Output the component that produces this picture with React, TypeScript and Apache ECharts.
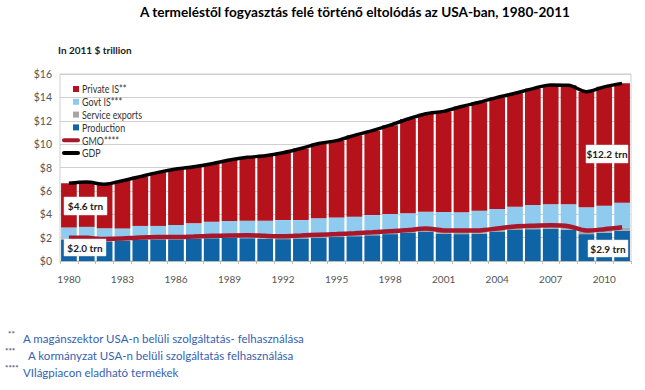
import React, { useEffect, useRef } from "react";
import * as echarts from "echarts";

const years = [
  "1980", "1981", "1982", "1983", "1984", "1985", "1986", "1987", "1988", "1989",
  "1990", "1991", "1992", "1993", "1994", "1995", "1996", "1997", "1998", "1999",
  "2000", "2001", "2002", "2003", "2004", "2005", "2006", "2007", "2008", "2009",
  "2010", "2011",
];

const production = [
  1.80, 1.78, 1.68, 1.72, 1.82, 1.85, 1.85, 1.90, 1.95, 1.98,
  1.95, 1.90, 1.87, 1.93, 2.00, 2.05, 2.12, 2.20, 2.30, 2.40,
  2.48, 2.32, 2.30, 2.32, 2.48, 2.65, 2.72, 2.76, 2.68, 2.30,
  2.42, 2.58,
];

const serviceExports = [
  0.15, 0.15, 0.15, 0.15, 0.15, 0.15, 0.15, 0.15, 0.15, 0.15,
  0.20, 0.20, 0.20, 0.20, 0.20, 0.20, 0.20, 0.20, 0.20, 0.20,
  0.25, 0.25, 0.25, 0.25, 0.25, 0.25, 0.25, 0.25, 0.25, 0.25,
  0.25, 0.25,
];

const govtIS = [
  0.92, 0.99, 0.97, 0.91, 1.03, 1.00, 1.08, 1.17, 1.26, 1.30,
  1.30, 1.34, 1.43, 1.37, 1.45, 1.48, 1.47, 1.53, 1.52, 1.48,
  1.49, 1.63, 1.62, 1.73, 1.72, 1.74, 1.82, 1.84, 1.92, 2.05,
  2.06, 2.16,
];

const privateIS = [
  3.78, 3.83, 3.77, 4.09, 4.22, 4.58, 4.79, 4.85, 4.96, 5.21,
  5.42, 5.56, 5.76, 6.12, 6.40, 6.57, 6.96, 7.22, 7.60, 8.07,
  8.38, 8.60, 9.05, 9.28, 9.55, 9.71, 9.96, 10.20, 10.18, 9.88,
  10.17, 10.21,
];

const gmo = [
  2.00, 1.98, 1.88, 1.92, 2.02, 2.05, 2.05, 2.10, 2.15, 2.18,
  2.20, 2.15, 2.12, 2.18, 2.25, 2.30, 2.37, 2.45, 2.55, 2.65,
  2.78, 2.62, 2.60, 2.62, 2.78, 2.95, 3.02, 3.06, 2.98, 2.60,
  2.72, 2.88,
];

const gdp = [
  6.65, 6.75, 6.57, 6.87, 7.22, 7.58, 7.87, 8.07, 8.32, 8.64,
  8.87, 9.00, 9.26, 9.62, 10.05, 10.30, 10.75, 11.15, 11.62, 12.15,
  12.60, 12.80, 13.22, 13.58, 14.00, 14.35, 14.75, 15.05, 15.03, 14.48,
  14.90, 15.20,
];

const legendItems = [
  { name: "Private IS**", color: "#b5121b", kind: "box" },
  { name: "Govt IS***", color: "#8ecbef", kind: "box" },
  { name: "Service exports", color: "#a6a6a6", kind: "box" },
  { name: "Production", color: "#0f64a6", kind: "box" },
  { name: "GMO****", color: "#a8182c", kind: "line" },
  { name: "GDP", color: "#000000", kind: "line" },
];

const callouts = [
  { text: "$4.6 trn", x: 64, y: 197, w: 43, h: 18 },
  { text: "$2.0 trn", x: 64, y: 239, w: 42, h: 17 },
  { text: "$12.2 trn", x: 586, y: 145, w: 42, h: 18 },
  { text: "$2.9 trn", x: 588, y: 240, w: 40, h: 17 },
];

const footnotes = [
  { mark: "**", markX: 8, text: "A magánszektor USA-n belüli szolgáltatás- felhasználása", x: 23, y: 338 },
  { mark: "***", markX: 5, text: "A kormányzat USA-n belüli szolgáltatás felhasználása", x: 28, y: 355 },
  { mark: "****", markX: 5, text: "VIlágpiacon eladható termékek", x: 23, y: 372 },
];

const FONT = "Lato";

export default function App() {
  const ref = useRef<HTMLDivElement>(null);

  useEffect(() => {
    if (!ref.current) return;
    const chart = echarts.init(ref.current, undefined, { renderer: "svg" });

    const graphic: any[] = [
      {
        type: "text",
        left: 140,
        top: 5,
        style: {
          text: "A termeléstől fogyasztás felé történő eltolódás az USA-ban, 1980-2011",
          font: `bold 13.6px ${FONT}`,
          fill: "#000",
        },
      },
      {
        type: "text",
        left: 58,
        top: 45,
        style: { text: "In 2011 $ trillion", font: `bold 10px ${FONT}`, fill: "#222" },
      },
    ];

    legendItems.forEach((it, i) => {
      const cy = 89 + i * 12.8;
      if (it.kind === "box") {
        graphic.push({
          type: "rect",
          shape: { x: 73, y: cy - 3, width: 6, height: 6 },
          style: { fill: it.color },
          z: 10,
        });
      } else {
        graphic.push({
          type: "line",
          shape: { x1: 64, y1: cy, x2: 78, y2: cy },
          style: { stroke: it.color, lineWidth: 4, lineCap: "round" },
          z: 10,
        });
      }
      graphic.push({
        type: "text",
        x: 82,
        y: cy,
        scaleX: 0.85,
        style: {
          text: it.name,
          font: `10.5px ${FONT}`,
          fill: "#333",
          verticalAlign: "middle",
        },
        z: 10,
      });
    });

    callouts.forEach((c) => {
      graphic.push({
        type: "rect",
        shape: { x: c.x, y: c.y, width: c.w, height: c.h },
        style: { fill: "#fff", stroke: "#ddd", lineWidth: 0.5 },
        z: 20,
      });
      graphic.push({
        type: "text",
        x: c.x + c.w / 2,
        y: c.y + c.h / 2,
        style: {
          text: c.text,
          font: `bold 10px ${FONT}`,
          fill: "#222",
          align: "center",
          verticalAlign: "middle",
        },
        z: 21,
      });
    });

    footnotes.forEach((f) => {
      graphic.push({
        type: "text",
        x: f.markX,
        y: f.y - 4,
        style: {
          text: f.mark,
          font: `bold 8px ${FONT}`,
          fill: "#4a5a7a",
          verticalAlign: "middle",
        },
      });
      graphic.push({
        type: "text",
        x: f.x,
        y: f.y,
        style: {
          text: f.text,
          font: `11.5px ${FONT}`,
          fill: "#3462b0",
          verticalAlign: "middle",
        },
      });
    });

    chart.setOption({
      animation: false,
      backgroundColor: "#fff",
      textStyle: { fontFamily: FONT },
      grid: {
        left: 60,
        right: 14,
        top: 74,
        bottom: 129,
        show: true,
        borderColor: "#cfcfcf",
        borderWidth: 1,
      },
      xAxis: {
        type: "category",
        data: years,
        boundaryGap: true,
        axisLine: { show: true, lineStyle: { color: "#bbb" } },
        axisTick: { show: true, length: 3, lineStyle: { color: "#bbb" }, interval: 0 },
        axisLabel: {
          interval: 2,
          color: "#555",
          fontSize: 10,
          margin: 13,
          fontFamily: FONT,
        },
      },
      yAxis: {
        type: "value",
        min: 0,
        max: 16,
        interval: 2,
        axisLine: { show: false },
        axisTick: { show: false },
        splitLine: { lineStyle: { color: "#d0d0d0" } },
        axisLabel: {
          color: "#555",
          fontSize: 10.5,
          margin: 8,
          fontFamily: FONT,
          formatter: (v: number) => "$" + v,
        },
      },
      series: [
        {
          name: "Production",
          type: "bar",
          stack: "t",
          data: production,
          barCategoryGap: "12%",
          itemStyle: { color: "#0f64a6" },
        },
        {
          name: "Service exports",
          type: "bar",
          stack: "t",
          data: serviceExports,
          itemStyle: { color: "#a6a6a6" },
        },
        {
          name: "Govt IS",
          type: "bar",
          stack: "t",
          data: govtIS,
          itemStyle: { color: "#8ecbef" },
        },
        {
          name: "Private IS",
          type: "bar",
          stack: "t",
          data: privateIS,
          itemStyle: { color: "#b5121b" },
        },
        {
          name: "GMO",
          type: "line",
          data: gmo,
          symbol: "none",
          smooth: 0.3,
          lineStyle: { color: "#a8182c", width: 4.5 },
          z: 5,
        },
        {
          name: "GDP",
          type: "line",
          data: gdp,
          symbol: "none",
          smooth: 0.3,
          lineStyle: { color: "#000", width: 3.5 },
          z: 5,
        },
      ],
      graphic,
    });

    return () => chart.dispose();
  }, []);

  return (
    <div
      ref={ref}
      style={{ position: "fixed", left: 0, top: 0, width: 645, height: 390 }}
    />
  );
}
